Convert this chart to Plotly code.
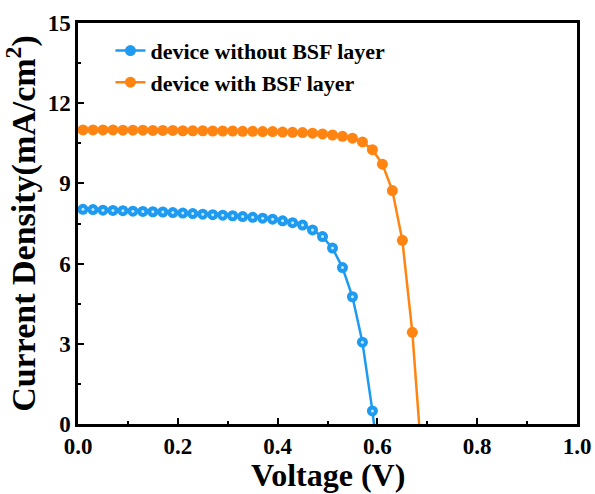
import plotly.graph_objects as go

# J-V characteristics of the two solar-cell structures
voltage_no_bsf = [0.01, 0.03, 0.05, 0.07, 0.09, 0.11, 0.13, 0.15, 0.17, 0.19,
                  0.21, 0.23, 0.25, 0.27, 0.29, 0.31, 0.33, 0.35, 0.37, 0.39,
                  0.41, 0.43, 0.45, 0.47, 0.49, 0.51, 0.53, 0.55, 0.57, 0.59, 0.61]
current_no_bsf = [8.03, 8.02, 8.00, 7.99, 7.98, 7.96, 7.95, 7.94, 7.93, 7.91,
                  7.89, 7.87, 7.85, 7.83, 7.81, 7.79, 7.76, 7.73, 7.70, 7.66,
                  7.60, 7.53, 7.44, 7.26, 7.01, 6.58, 5.85, 4.76, 3.06, 0.49, -2.6]

voltage_bsf = [0.01, 0.03, 0.05, 0.07, 0.09, 0.11, 0.13, 0.15, 0.17, 0.19,
               0.21, 0.23, 0.25, 0.27, 0.29, 0.31, 0.33, 0.35, 0.37, 0.39,
               0.41, 0.43, 0.45, 0.47, 0.49, 0.51, 0.53, 0.55, 0.57, 0.59,
               0.61, 0.63, 0.65, 0.67, 0.69]
current_bsf = [11.00, 11.00, 11.00, 11.00, 10.99, 10.99, 10.99, 10.98, 10.98, 10.98,
               10.97, 10.97, 10.97, 10.96, 10.96, 10.96, 10.95, 10.95, 10.94, 10.94,
               10.92, 10.91, 10.90, 10.88, 10.85, 10.81, 10.76, 10.69, 10.55, 10.26,
               9.72, 8.73, 6.87, 3.43, -1.6]

series_names = ["device without BSF layer", "device with BSF layer"]
x_title = "Voltage (V)"
y_title = "Current Density(mA/cm<sup>2</sup>)"

BLUE = "#1E9BF0"
ORANGE = "#FF8411"
FONT = "Times New Roman, Liberation Serif, serif"

fig = go.Figure()
fig.add_trace(go.Scatter(
    x=voltage_no_bsf, y=current_no_bsf, name=series_names[0],
    mode="lines+markers", legendgroup="a",
    line=dict(color=BLUE, width=2.5),
    marker=dict(symbol="circle", size=11, color=BLUE, line=dict(width=0)),
))
# glossy highlight on the blue ball markers
fig.add_trace(go.Scatter(
    x=voltage_no_bsf, y=current_no_bsf, mode="markers", showlegend=False,
    hoverinfo="skip",
    marker=dict(symbol="circle", size=3, color="rgba(215,240,255,0.9)", line=dict(width=0)),
))
fig.add_trace(go.Scatter(
    x=voltage_bsf, y=current_bsf, name=series_names[1],
    mode="lines+markers", legendgroup="b",
    line=dict(color=ORANGE, width=2.5),
    marker=dict(symbol="circle", size=11, color=ORANGE, line=dict(width=0)),
))

axis_common = dict(
    showline=True, linecolor="black", linewidth=2.5, mirror=True,
    ticks="inside", ticklen=6, tickwidth=2, tickcolor="black",
    showgrid=False, zeroline=False, automargin=False,
    ticklabeloverflow="allow",
    tickfont=dict(family=FONT, size=23, color="black", weight="bold"),
)

fig.update_xaxes(
    range=[0, 1], dtick=0.2, tick0=0, tickformat=".1f",
    minor=dict(dtick=0.1, ticks="inside", ticklen=3, tickwidth=2, tickcolor="black"),
    **axis_common,
)
fig.update_yaxes(
    range=[0, 15], dtick=3, tick0=0,
    minor=dict(dtick=1.5, ticks="inside", ticklen=3, tickwidth=2, tickcolor="black"),
    title=dict(text=y_title, standoff=2,
               font=dict(family=FONT, size=34, color="black", weight="bold")),
    **axis_common,
)

# x-axis title placed below the tick labels
fig.add_annotation(
    text=x_title, xref="paper", yref="paper", x=0.5, y=0,
    xanchor="center", yanchor="middle", yshift=-51, showarrow=False,
    font=dict(family=FONT, size=32, color="black", weight="bold"),
)

fig.update_layout(
    width=595, height=494,
    margin=dict(l=78, r=18, t=23, b=70),
    paper_bgcolor="white", plot_bgcolor="white",
    showlegend=True,
    legend=dict(
        x=0.065, y=0.983, xanchor="left", yanchor="top",
        bgcolor="rgba(0,0,0,0)", borderwidth=0,
        traceorder="grouped", tracegroupgap=0,
        font=dict(family=FONT, size=22, color="black", weight="bold"),
    ),
)

fig.write_html("out.html")
